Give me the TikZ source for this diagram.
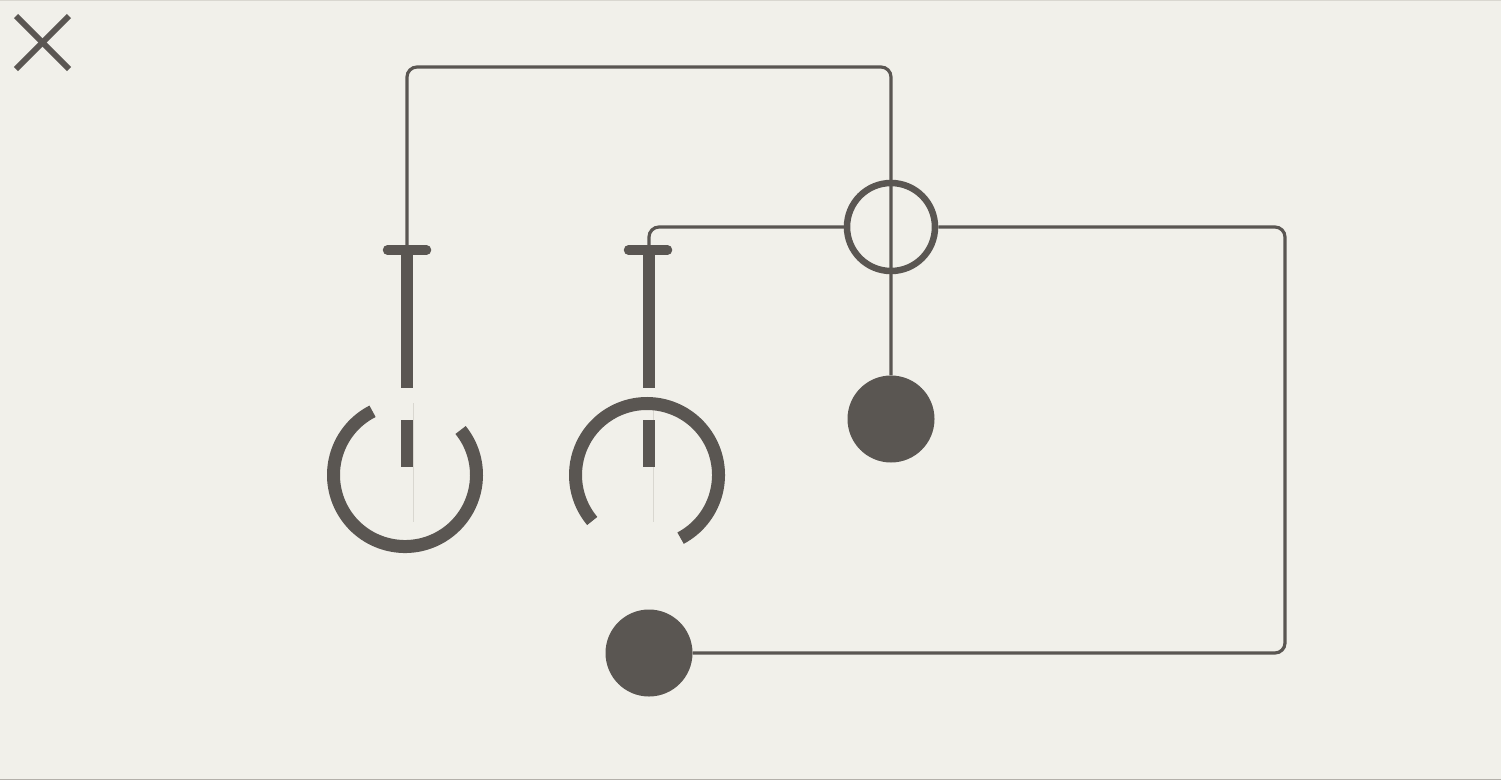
\documentclass[tikz,border=0pt]{standalone}
\definecolor{bg}{HTML}{F1F0EA}
\definecolor{ink}{HTML}{5A5652}
\definecolor{faint}{HTML}{D9D7D0}
\begin{document}
\begin{tikzpicture}[x=1pt,y=-1pt,
  wire/.style={draw=ink,line width=3.2pt,rounded corners=10pt},
  ringnode/.style={circle,draw=ink,line width=6.5pt,minimum size=88pt,inner sep=0pt},
  dotnode/.style={circle,fill=ink,minimum size=87pt,inner sep=0pt},
  knob/.style={draw=ink,line width=13pt},
  stem/.style={draw=ink,line width=12.5pt},
  crossbar/.style={draw=ink,line width=9.5pt,line cap=round},
  hair/.style={draw=faint,line width=1pt},
  closemark/.style={draw=ink,line width=6pt}]
\fill[bg] (0,0) rectangle (1501,780);
\useasboundingbox (0,0) rectangle (1501,780);
\draw[draw=faint,line width=1pt] (0,0.5) -- (1501,0.5);
\draw[draw=faint!70!ink,line width=1pt] (0,779.5) -- (1501,779.5);
% close icon
\coordinate (xa) at (16,16); \coordinate (xb) at (69,69);
\coordinate (xc) at (69,16); \coordinate (xd) at (16,69);
\draw[closemark] (xa) -- (xb);
\draw[closemark] (xc) -- (xd);
% nodes
\coordinate (t1) at (407,250);
\coordinate (t2) at (649,250);
\coordinate (k1) at (405,475);
\coordinate (k2) at (647,475);
\node[dotnode] (d1) at (891,419) {};
\node[dotnode] (d2) at (649,653) {};
\coordinate (topL) at (407,67);
\coordinate (topR) at (891,67);
\coordinate (rc1) at (1285,227);
\coordinate (rc2) at (1285,653);
% wires
\draw[wire] (t1) -- (topL) -- (topR) -- (d1.north);
\node[ringnode] (r) at (891,227) {};
\draw[wire] (t2) |- (r.west);
\draw[wire] (r.east) -- (rc1) -- (rc2) -- (d2.east);
% switch 1
\draw[hair] (413,403) -- (413,522);
\draw[stem] (t1) -- (407,388);
\draw[stem] (407,420) -- (407,467);
\draw[crossbar] (387.5,250) -- (426.5,250);
\draw[knob] (k1) ++(-117:71.5) arc[start angle=-117,end angle=-399,radius=71.5];
% switch 2
\draw[hair] (653,410) -- (653,522);
\draw[stem] (t2) -- (649,388);
\draw[stem] (649,420) -- (649,467);
\draw[crossbar] (628.5,250) -- (667.5,250);
\draw[knob] (k2) ++(62:71.5) arc[start angle=62,end angle=-220,radius=71.5];
\end{tikzpicture}
\end{document}
